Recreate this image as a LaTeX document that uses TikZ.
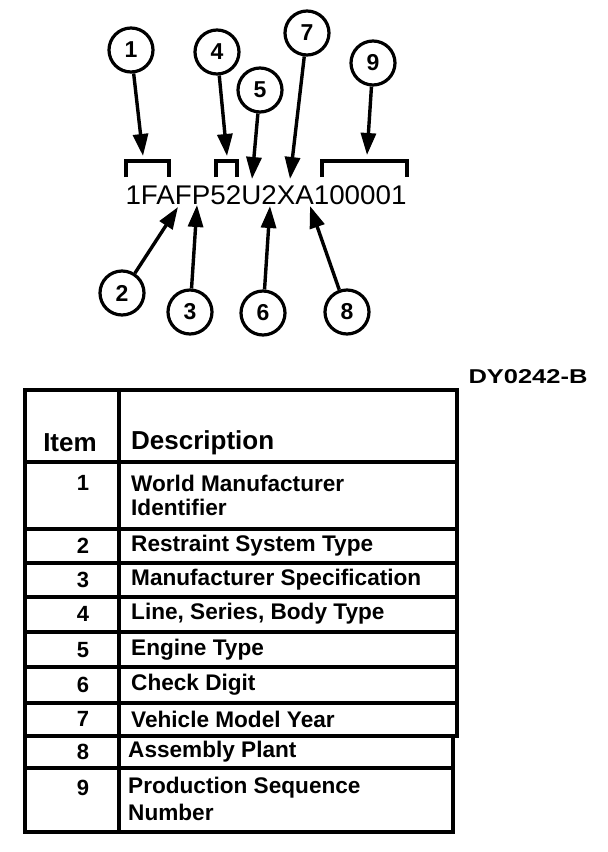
\documentclass[tikz,border=0pt]{standalone}
\usepackage{fontspec}
\setmainfont{Liberation Sans}
\usetikzlibrary{arrows.meta}
\begin{document}
\begin{tikzpicture}[x=1pt,y=-1pt,
 circ/.style={circle,draw,line width=3.2pt,minimum size=44pt,inner sep=0pt,font=\fontsize{23}{23}\selectfont\bfseries},
 arr/.style={line width=3.4pt,-{Triangle[length=22pt,width=15pt]}},
 brk/.style={line width=3.4pt},
 gridline/.style={line width=3.2pt},
 num/.style={font=\fontsize{22}{24}\selectfont\bfseries,anchor=center,inner sep=0pt},
 desc/.style={font=\fontsize{22.6}{24}\selectfont\bfseries,anchor=west,align=left,inner sep=0pt},
 head/.style={font=\fontsize{26}{28}\selectfont\bfseries,inner sep=0pt},
]
\useasboundingbox (0,0) rectangle (608,852);
% VIN
\node[inner sep=0pt] (vin) at (266,195) {\resizebox{281pt}{\height}{\fontsize{27}{27}\selectfont 1FAFP52U2XA100001}};
% brackets
\coordinate (b1a) at (126,177); \coordinate (b1b) at (169,177);
\coordinate (b4a) at (216,177); \coordinate (b4b) at (237,177);
\coordinate (b9a) at (322,177); \coordinate (b9b) at (407,177);
\draw[brk] (b1a) -- ++(0,-16) -| (b1b);
\draw[brk] (b4a) -- ++(0,-16) -| (b4b);
\draw[brk] (b9a) -- ++(0,-16) -| (b9b);
% circles
\node[circ] (c1) at (131,50) {1};
\node[circ] (c4) at (217,52) {4};
\node[circ] (c5) at (260,90) {5};
\node[circ] (c7) at (307,33) {7};
\node[circ] (c9) at (373,63) {9};
\node[circ] (c2) at (122,293) {2};
\node[circ] (c3) at (190,312) {3};
\node[circ] (c6) at (263,313) {6};
\node[circ] (c8) at (347,312) {8};
% tips
\coordinate (t1) at (143,156);
\coordinate (t4) at (227,156);
\coordinate (t5) at (252,179);
\coordinate (t7) at (290,179);
\coordinate (t9) at (367,155);
\coordinate (t2) at (178,207);
\coordinate (t3) at (197,205);
\coordinate (t6) at (270,206);
\coordinate (t8) at (310,206);
\foreach \i in {1,4,5,7,9,2,3,6,8} {\draw[arr] (c\i) -- (t\i);}
% label
\node[inner sep=0pt] (code) at (528,377) {\resizebox{119pt}{\height}{\fontsize{20}{20}\selectfont\bfseries DY0242-B}};
% table
\draw[gridline] (25,390) rectangle (457,462);
\draw[gridline] (25,462) rectangle (457,529);
\draw[gridline] (25,529) rectangle (457,563);
\draw[gridline] (25,563) rectangle (457,597);
\draw[gridline] (25,597) rectangle (457,632);
\draw[gridline] (25,632) rectangle (457,667);
\draw[gridline] (25,667) rectangle (457,703);
\draw[gridline] (25,703) rectangle (457,736);
\draw[gridline] (25,736) rectangle (453,768);
\draw[gridline] (25,768) rectangle (453,832);
\draw[gridline] (119,390) -- (119,832);
\node[head] (hi) at (70,443) {Item};
\node[head,anchor=west] (hd) at (131,443) {Description};
\node[num] (n1) at (83,483) {1};
\node[desc] (d1) at (131,483) {World Manufacturer};
\node[desc] (d1b) at (131,507) {Identifier};
\node[num] (n2) at (83,546) {2};
\node[desc] (d2) at (131,546) {Restraint System Type};
\node[num] (n3) at (83,580) {3};
\node[desc] (d3) at (131,580) {Manufacturer Specification};
\node[num] (n4) at (83,614) {4};
\node[desc] (d4) at (131,614) {Line, Series, Body Type};
\node[num] (n5) at (83,650) {5};
\node[desc] (d5) at (131,650) {Engine Type};
\node[num] (n6) at (83,685) {6};
\node[desc] (d6) at (131,685) {Check Digit};
\node[num] (n7) at (83,719) {7};
\node[desc] (d7) at (131,719) {Vehicle Model Year};
\node[num] (n8) at (83,752) {8};
\node[desc] (d8) at (128,752) {Assembly Plant};
\node[num] (n9) at (83,788) {9};
\node[desc] (d9) at (128,788) {Production Sequence};
\node[desc] (d9b) at (128,812) {Number};
\end{tikzpicture}
\end{document}
